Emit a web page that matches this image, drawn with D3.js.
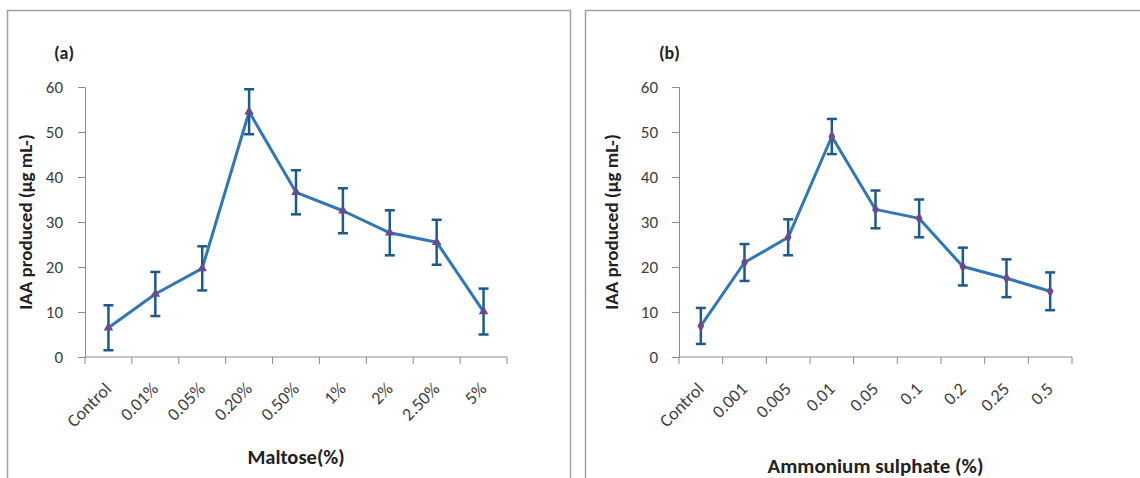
<!DOCTYPE html>
<html><head><meta charset="utf-8">
<script src="https://cdn.jsdelivr.net/npm/d3@7"></script>
<style>body{margin:0;background:#fff}svg{display:block}</style>
</head><body>
<svg id="c" width="1140" height="478"></svg>
<script>
const yTicks = [0,10,20,30,40,50,60];
const catsA = ["Control","0.01%","0.05%","0.20%","0.50%","1%","2%","2.50%","5%"];
const valsA = [6.5,14,19.7,54.5,36.6,32.5,27.6,25.5,10.1];
const errA  = [5,4.9,4.9,5,4.9,5,5,5,5.1];
const catsB = ["Control","0.001","0.005","0.01","0.05","0.1","0.2","0.25","0.5"];
const valsB = [6.9,21,26.6,49,32.8,30.8,20.1,17.5,14.6];
const errB  = [4,4.1,4,3.9,4.2,4.2,4.2,4.2,4.2];

const svg = d3.select("#c");
const font = "Carlito, Lato, 'Open Sans', sans-serif";

// panel borders
svg.append("rect").attr("x",7.5).attr("y",10.5).attr("width",563).attr("height",480)
  .attr("fill","none").attr("stroke","#a0a0a0").attr("stroke-width",1.5);
svg.append("rect").attr("x",585.5).attr("y",10.5).attr("width",570).attr("height",480)
  .attr("fill","none").attr("stroke","#a0a0a0").attr("stroke-width",1.5);

function panel(cfg){
  const {x0,x1,cats,vals,errs,label,xTitle,labelX,yTitleX,marker} = cfg;
  const y = d3.scaleLinear().domain([0,60]).range([357,87]);
  const x = d3.scaleBand().domain(cats).range([x0,x1]);
  const g = svg.append("g");
  // y axis
  const ya = g.append("g").attr("transform",`translate(${x0},0)`)
    .call(d3.axisLeft(y).tickValues(yTicks).tickSize(7).tickPadding(cfg.ypad));
  ya.selectAll("path,line").attr("stroke","#8c8c8c");
  ya.selectAll("text").attr("font-family",font).attr("font-size",17).attr("fill","#404040");
  // x axis with ticks at boundaries
  const xa = g.append("g").attr("transform",`translate(0,${y(0)})`);
  xa.append("line").attr("x1",x0).attr("x2",x1).attr("stroke","#8c8c8c");
  const bounds = cats.map(c=>x(c)).concat([x1]);
  xa.selectAll("line.t").data(bounds).enter().append("line").attr("class","t")
    .attr("x1",d=>d).attr("x2",d=>d).attr("y1",0).attr("y2",7).attr("stroke","#8c8c8c");
  xa.selectAll("text").data(cats).enter().append("text")
    .attr("transform",d=>`translate(${x(d)+x.bandwidth()/2+4},${33}) rotate(-45)`)
    .attr("text-anchor","end").attr("font-family",font).attr("font-size",18).attr("fill","#404040")
    .text(d=>d);
  // line
  const cx = d=>x(d)+x.bandwidth()/2;
  const data = cats.map((c,i)=>({c,v:vals[i],e:errs[i]}));
  g.append("path").datum(data)
    .attr("d",d3.line().x(d=>cx(d.c)).y(d=>y(d.v)))
    .attr("fill","none").attr("stroke","#2f78b5").attr("stroke-width",3).attr("stroke-linejoin","round");
  // error bars
  const eb = g.selectAll("g.eb").data(data).enter().append("g").attr("stroke","#1c5a8e").attr("stroke-width",2.5);
  eb.append("line").attr("x1",d=>cx(d.c)).attr("x2",d=>cx(d.c)).attr("y1",d=>y(d.v+d.e)).attr("y2",d=>y(d.v-d.e));
  eb.append("line").attr("x1",d=>cx(d.c)-5).attr("x2",d=>cx(d.c)+5).attr("y1",d=>y(d.v+d.e)).attr("y2",d=>y(d.v+d.e));
  eb.append("line").attr("x1",d=>cx(d.c)-5).attr("x2",d=>cx(d.c)+5).attr("y1",d=>y(d.v-d.e)).attr("y2",d=>y(d.v-d.e));
  // markers
  g.selectAll("path.m").data(data).enter().append("path")
    .attr("d",d3.symbol().type(marker).size(40))
    .attr("transform",d=>`translate(${cx(d.c)},${y(d.v)})`)
    .attr("fill","#6a4a8c").attr("stroke","none");
  // titles
  g.append("text").attr("x",labelX).attr("y",59).attr("font-family",font).attr("font-weight","bold")
    .attr("font-size",18).attr("fill","#222").text(label);
  g.append("text").attr("transform",`translate(${yTitleX},${(y(0)+y(60))/2}) rotate(-90)`)
    .attr("text-anchor","middle").attr("font-family",font).attr("font-weight","bold")
    .attr("font-size",19).attr("fill","#222").text("IAA produced  (µg mL-)");
  g.append("text").attr("x",(x0+x1)/2).attr("y",cfg.xTitleY).attr("text-anchor","middle")
    .attr("font-family",font).attr("font-weight","bold").attr("font-size",cfg.xTitleSize).attr("fill","#222").text(xTitle);
}

panel({x0:85,x1:507,cats:catsA,vals:valsA,errs:errA,label:"(a)",xTitle:"Maltose(%)",labelX:54,yTitleX:32,marker:d3.symbolTriangle,xTitleY:464,xTitleSize:20.5,ypad:15});
panel({x0:679,x1:1072,cats:catsB,vals:valsB,errs:errB,label:"(b)",xTitle:"Ammonium sulphate  (%)",labelX:659,yTitleX:618,marker:d3.symbolDiamond,xTitleY:473,xTitleSize:21,ypad:14});
</script>
</body></html>
